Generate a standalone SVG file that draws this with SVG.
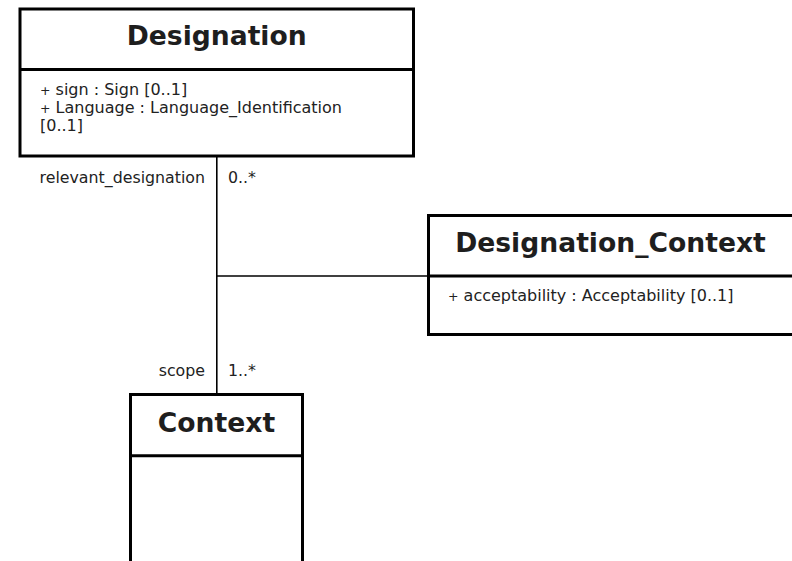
<svg xmlns="http://www.w3.org/2000/svg" width="792" height="561" viewBox="0 0 792 561">
<style>
.box{fill:#fff;stroke:#000;stroke-width:3}
.div{stroke:#000;stroke-width:3}
.conn{stroke:#000;stroke-width:1.6;fill:none}
.title{font-family:"DejaVu Sans",sans-serif;font-weight:bold;font-size:26.6px;fill:#1e1e1e;text-anchor:middle}
.attr{font-family:"DejaVu Sans",sans-serif;font-size:16px;fill:#222}
.pl{font-size:12.5px}
.lbl{font-family:"DejaVu Sans",sans-serif;font-size:15.8px;fill:#222}
.r{text-anchor:end}
</style>
<rect width="792" height="561" fill="#fff"/>
<g id="connectors">
<line class="conn" x1="216.8" y1="156" x2="216.8" y2="394"/>
<line class="conn" x1="216.8" y1="276" x2="428.5" y2="276"/>
<text class="lbl r" x="205" y="183">relevant_designation</text>
<text class="lbl" x="228" y="183">0..*</text>
<text class="lbl r" x="205" y="376">scope</text>
<text class="lbl" x="228" y="376">1..*</text>
</g>
<g id="Designation">
<rect class="box" x="20" y="9" width="393.5" height="147"/>
<line class="div" x1="20" y1="69.5" x2="413.5" y2="69.5"/>
<text class="title" x="216.7" y="45">Designation</text>
<text class="attr" x="40" y="95"><tspan class="pl">+</tspan> sign : Sign [0..1]</text>
<text class="attr" x="40" y="113"><tspan class="pl">+</tspan> Language : Language_Identification</text>
<text class="attr" x="40" y="131">[0..1]</text>
</g>
<g id="Designation_Context">
<rect class="box" x="428.5" y="215.5" width="366" height="119"/>
<line class="div" x1="428.5" y1="276" x2="794" y2="276"/>
<text class="title" x="610.5" y="252">Designation_Context</text>
<text class="attr" x="448" y="301"><tspan class="pl">+</tspan> acceptability : Acceptability [0..1]</text>
</g>
<g id="Context">
<rect class="box" x="130.5" y="394.5" width="172" height="170"/>
<line class="div" x1="130.5" y1="455.7" x2="302.5" y2="455.7"/>
<text class="title" x="216.5" y="431.5">Context</text>
</g>
</svg>
